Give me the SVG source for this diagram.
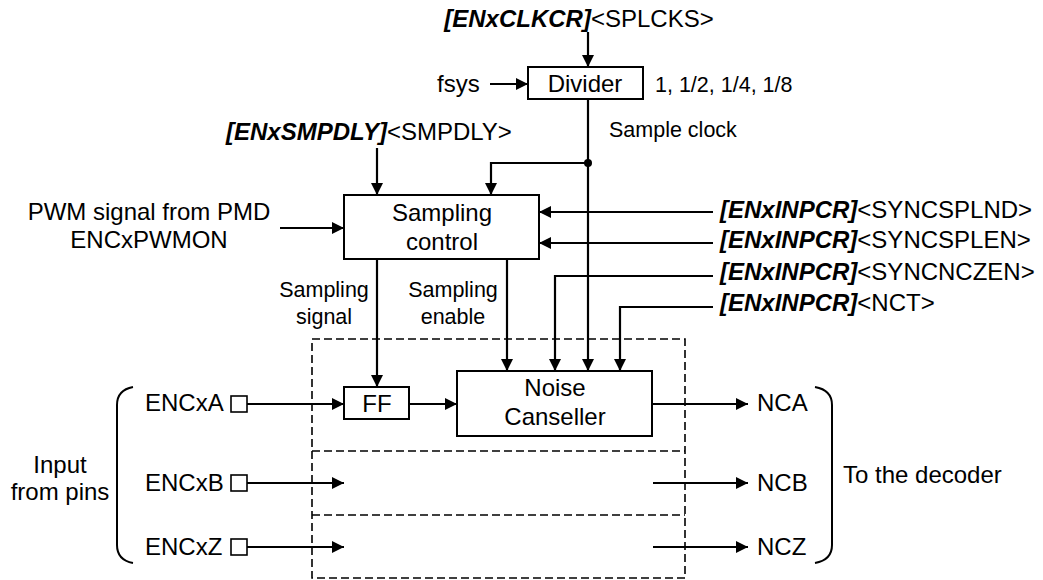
<svg xmlns="http://www.w3.org/2000/svg" width="1043" height="580" viewBox="0 0 1043 580">
<defs>
<marker id="ah" markerUnits="userSpaceOnUse" markerWidth="12" markerHeight="12" refX="12" refY="6" orient="auto">
<path d="M0,0 L12,6 L0,12 z" fill="#000"/>
</marker>
<style>
text{font-family:"Liberation Sans",Arial,sans-serif;font-size:24px;fill:#000}
.s{font-size:21.5px}
.m{text-anchor:middle}
.b{font-weight:bold;font-style:italic}
.box{fill:#fff;stroke:#000;stroke-width:2}
.ln{fill:none;stroke:#000;stroke-width:2}
.ar{fill:none;stroke:#000;stroke-width:2.2;marker-end:url(#ah)}
.dash{fill:none;stroke:#000;stroke-width:1.6;stroke-dasharray:8 4}
.pin{fill:#fff;stroke:#000;stroke-width:1.6}
</style>
</defs>
<rect width="1043" height="580" fill="#fff"/>

<g id="connectors">
<path class="ar" d="M588,32 V67"/>
<path class="ar" d="M490,84 H528"/>
<path class="ar" d="M588,99 V371"/>
<path class="ar" d="M588,163 H491 V195"/>
<path class="ar" d="M377,148 V195"/>
<path class="ar" d="M280,228 H344"/>
<path class="ar" d="M713,212 H539"/>
<path class="ar" d="M713,243 H539"/>
<path class="ar" d="M713,276 H555 V371"/>
<path class="ar" d="M713,307 H620 V371"/>
<path class="ar" d="M507,259 V371"/>
<path class="ar" d="M377,259 V387"/>
<path class="ar" d="M247,404 H344"/>
<path class="ar" d="M409,404 H457"/>
<path class="ar" d="M652,404 H748"/>
<path class="ar" d="M247,483 H344"/>
<path class="ar" d="M653,483 H748"/>
<path class="ar" d="M247,547 H344"/>
<path class="ar" d="M653,547 H748"/>
<circle cx="588" cy="163" r="4" fill="#000"/>
</g>

<g id="frame">
<rect class="dash" x="312" y="339" width="373" height="239"/>
<path class="dash" d="M312,451 H685 M312,515 H685"/>
</g>

<g id="title">
<text x="579" y="27" class="m"><tspan class="b">[ENxCLKCR]</tspan>&lt;SPLCKS&gt;</text>
</g>

<g id="divider">
<rect class="box" x="528" y="67" width="115" height="32"/>
<text x="585" y="92" class="m">Divider</text>
</g>
<g id="fsys"><text x="437" y="92">fsys</text></g>
<g id="ratios"><text x="655" y="92" class="s">1, 1/2, 1/4, 1/8</text></g>
<g id="sampleclock"><text x="609" y="137" class="s">Sample clock</text></g>

<g id="smpdly">
<text x="226" y="140"><tspan class="b">[ENxSMPDLY]</tspan>&lt;SMPDLY&gt;</text>
</g>

<g id="pwm">
<text x="149" y="220" class="m">PWM signal from PMD</text>
<text x="149" y="248" class="m">ENCxPWMON</text>
</g>

<g id="sampling-control">
<rect class="box" x="344" y="195" width="195" height="64"/>
<text x="442" y="221" class="m">Sampling</text>
<text x="442" y="250" class="m">control</text>
</g>

<g id="regs">
<text x="720" y="218"><tspan class="b">[ENxINPCR]</tspan>&lt;SYNCSPLND&gt;</text>
<text x="720" y="248"><tspan class="b">[ENxINPCR]</tspan>&lt;SYNCSPLEN&gt;</text>
<text x="720" y="280"><tspan class="b">[ENxINPCR]</tspan>&lt;SYNCNCZEN&gt;</text>
<text x="720" y="311"><tspan class="b">[ENxINPCR]</tspan>&lt;NCT&gt;</text>
</g>

<g id="lbl-signal">
<text x="324" y="297" class="m s">Sampling</text>
<text x="324" y="324" class="m s">signal</text>
</g>
<g id="lbl-enable">
<text x="453" y="297" class="m s">Sampling</text>
<text x="453" y="324" class="m s">enable</text>
</g>

<g id="ff">
<rect class="box" x="344" y="387" width="65" height="32"/>
<text x="377" y="412" class="m">FF</text>
</g>

<g id="noise">
<rect class="box" x="457" y="371" width="195" height="65"/>
<text x="555" y="396" class="m">Noise</text>
<text x="555" y="425" class="m">Canseller</text>
</g>

<g id="inputs">
<path class="ln" d="M133,387 Q117,390 117,405 L117,545 Q117,560 133,563"/>
<text x="60" y="473" class="m">Input</text>
<text x="60" y="500" class="m">from pins</text>
<text x="145" y="411">ENCxA</text>
<text x="145" y="491">ENCxB</text>
<text x="145" y="555">ENCxZ</text>
<rect class="pin" x="231" y="396" width="16" height="16"/>
<rect class="pin" x="231" y="475" width="16" height="16"/>
<rect class="pin" x="231" y="539" width="16" height="16"/>
</g>

<g id="outputs">
<text x="757" y="411">NCA</text>
<text x="757" y="491">NCB</text>
<text x="757" y="555">NCZ</text>
<path class="ln" d="M815,387 Q832,390 832,405 L832,545 Q832,560 815,563"/>
<text x="843" y="483">To the decoder</text>
</g>
</svg>
